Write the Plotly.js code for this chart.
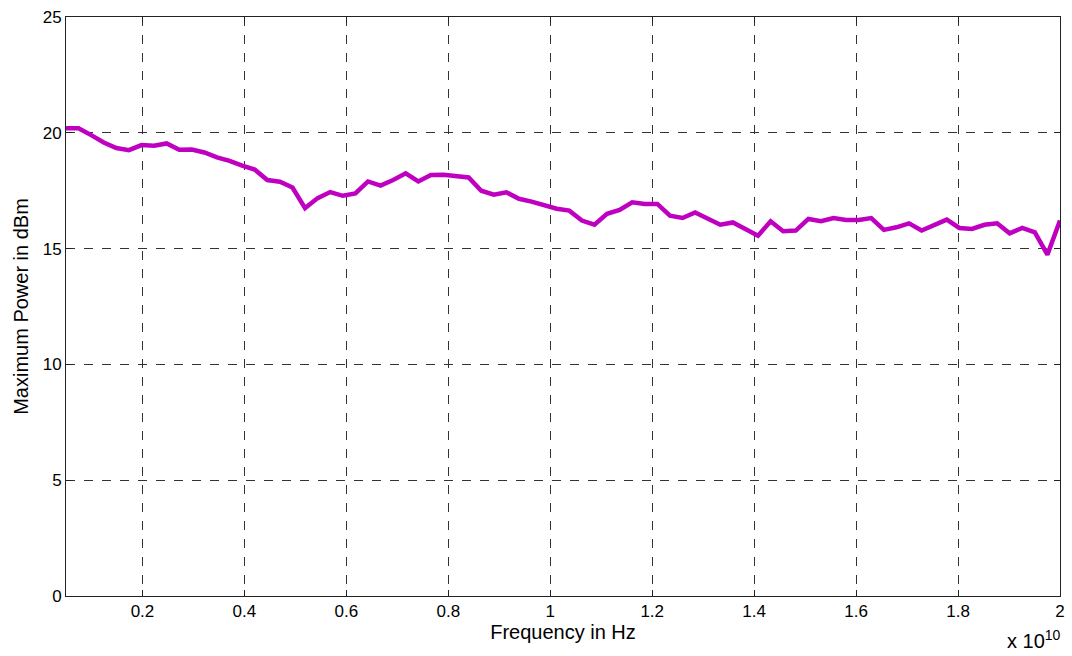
<!DOCTYPE html>
<html>
<head>
<meta charset="utf-8">
<script src="https://cdn.plot.ly/plotly-3.0.1.min.js"></script>
<style>
html,body{margin:0;padding:0;background:#fff;}
#chart{width:1072px;height:656px;}
</style>
</head>
<body>
<div id="chart"></div>
<script>
// Frequency in Hz (80 sweep points, 0.5 GHz to 20 GHz)
var frequencyHz = [
  5.000e8, 7.468e8, 9.937e8, 1.2405e9, 1.4873e9, 1.7342e9, 1.9810e9, 2.2278e9, 2.4747e9, 2.7215e9,
  2.9684e9, 3.2152e9, 3.4620e9, 3.7089e9, 3.9557e9, 4.2025e9, 4.4494e9, 4.6962e9, 4.9430e9, 5.1899e9,
  5.4367e9, 5.6835e9, 5.9304e9, 6.1772e9, 6.4241e9, 6.6709e9, 6.9177e9, 7.1646e9, 7.4114e9, 7.6582e9,
  7.9051e9, 8.1519e9, 8.3987e9, 8.6456e9, 8.8924e9, 9.1392e9, 9.3861e9, 9.6329e9, 9.8797e9, 1.01266e10,
  1.03734e10, 1.06203e10, 1.08671e10, 1.11139e10, 1.13608e10, 1.16076e10, 1.18544e10, 1.21013e10, 1.23481e10, 1.25949e10,
  1.28418e10, 1.30886e10, 1.33354e10, 1.35823e10, 1.38291e10, 1.40759e10, 1.43228e10, 1.45696e10, 1.48165e10, 1.50633e10,
  1.53101e10, 1.55570e10, 1.58038e10, 1.60506e10, 1.62975e10, 1.65443e10, 1.67911e10, 1.70380e10, 1.72848e10, 1.75316e10,
  1.77785e10, 1.80253e10, 1.82722e10, 1.85190e10, 1.87658e10, 1.90127e10, 1.92595e10, 1.95063e10, 1.97532e10, 2.00000e10
];

// Maximum power in dBm
var maxPowerDbm = [
  20.2, 20.2, 19.9, 19.58, 19.34, 19.25, 19.47, 19.44, 19.54, 19.27,
  19.28, 19.15, 18.94, 18.79, 18.58, 18.41, 17.96, 17.89, 17.64, 16.75,
  17.18, 17.44, 17.28, 17.38, 17.9, 17.72, 17.96, 18.25, 17.9, 18.18,
  18.19, 18.13, 18.07, 17.5, 17.33, 17.43, 17.15, 17.03, 16.89, 16.72,
  16.64, 16.21, 16.03, 16.5, 16.67, 17.0, 16.93, 16.93, 16.42, 16.32,
  16.56, 16.28, 16.03, 16.13, 15.87, 15.56, 16.18, 15.75, 15.78, 16.28,
  16.18, 16.32, 16.24, 16.24, 16.32, 15.81, 15.92, 16.09, 15.78, 15.99,
  16.25, 15.89, 15.85, 16.03, 16.09, 15.66, 15.89, 15.7, 14.74, 16.21
];

var xTickVals = [0.2, 0.4, 0.6, 0.8, 1, 1.2, 1.4, 1.6, 1.8, 2];
var xTickText = ["0.2", "0.4", "0.6", "0.8", "1", "1.2", "1.4", "1.6", "1.8", "2"];
var yTickVals = [0, 5, 10, 15, 20, 25];

var scale = 1e10;
var xScaled = frequencyHz.map(function(f){ return f / scale; });

var fam = "Liberation Sans, Arial, sans-serif";
var tickFont = {family: fam, size: 17, color: "#000"};
var titleFont = {family: fam, size: 20, color: "#000"};

var trace = {
  x: xScaled,
  y: maxPowerDbm,
  type: "scatter",
  mode: "lines",
  line: {color: "#C000C0", width: 4.5},
  hoverinfo: "x+y"
};

var axisCommon = {
  showline: true,
  linecolor: "#222",
  linewidth: 1,
  mirror: "ticks",
  ticks: "inside",
  ticklen: 6,
  tickcolor: "#222",
  showgrid: true,
  gridcolor: "#333",
  griddash: "dash",
  gridwidth: 1,
  zeroline: false,
  tickfont: tickFont
};

var layout = {
  width: 1072,
  height: 656,
  margin: {l: 66, r: 12, t: 17, b: 60},
  paper_bgcolor: "#fff",
  plot_bgcolor: "#fff",
  showlegend: false,
  font: tickFont,
  xaxis: Object.assign({}, axisCommon, {
    range: [0.05, 2],
    tickmode: "array",
    tickvals: xTickVals,
    ticktext: xTickText,
    title: {text: "Frequency in Hz", font: titleFont, standoff: 2}
  }),
  yaxis: Object.assign({}, axisCommon, {
    range: [0, 25],
    tickmode: "array",
    tickvals: yTickVals,
    title: {text: "Maximum Power in dBm", font: titleFont, standoff: 8}
  }),
  annotations: [{
    xref: "paper", yref: "paper",
    x: 1, y: 0,
    xanchor: "right", yanchor: "top",
    yshift: -29, xshift: 3,
    showarrow: false,
    text: "x 10<sup>10</sup>",
    font: titleFont
  }]
};

Plotly.newPlot("chart", [trace], layout, {displayModeBar: false});
</script>
</body>
</html>
